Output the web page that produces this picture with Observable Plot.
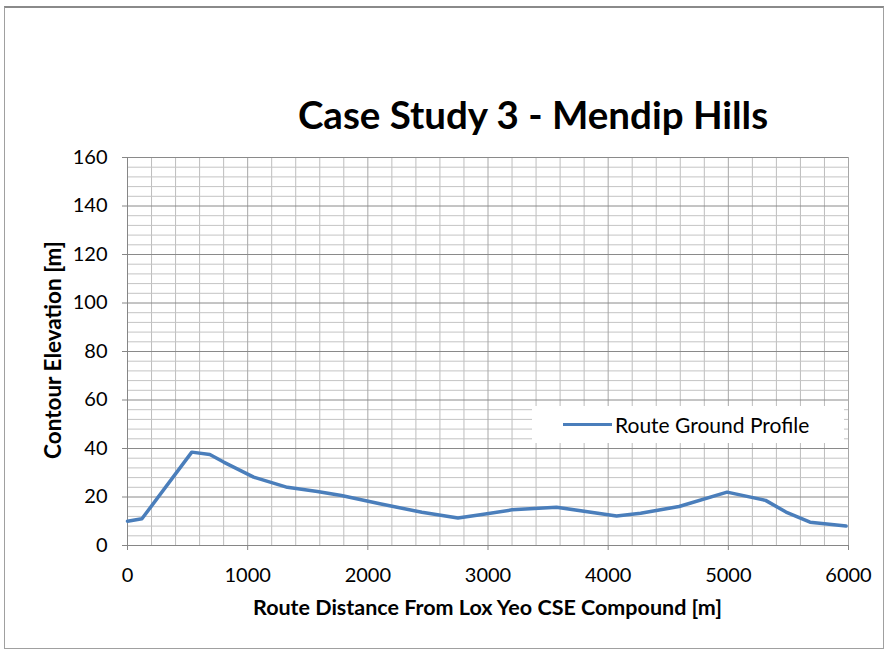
<!DOCTYPE html>
<html>
<head>
<meta charset="utf-8">
<script src="https://cdn.jsdelivr.net/npm/d3@7"></script>
<script src="https://cdn.jsdelivr.net/npm/@observablehq/plot@0.6"></script>
<style>
  html, body { margin: 0; padding: 0; background: #fff; }
  #wrap { position: relative; width: 887px; height: 655px; overflow: hidden; font-family: Lato, "DejaVu Sans", sans-serif; }
  #frame { position: absolute; left: 4px; top: 6px; width: 880px; height: 643px; border: 1px solid #a0a0a0; border-top: 2px solid #8a8a8a; box-sizing: border-box; }
  #title { position: absolute; left: 0; width: 1066px; top: 91px; text-align: center; font-weight: bold; font-size: 38.5px; color: #000; white-space: nowrap; }
  #xtitle { position: absolute; left: 127px; width: 721px; top: 594px; text-align: center; font-weight: bold; font-size: 21.5px; color: #000; white-space: nowrap; }
  #ytitle { position: absolute; left: 52px; top: 350px; transform: translate(-50%, -50%) rotate(-90deg); font-weight: bold; font-size: 22.5px; color: #000; white-space: nowrap; }
  #legend { position: absolute; left: 532px; top: 406px; width: 312px; height: 37px; background: #fff; display: flex; align-items: center; font-size: 21px; color: #000; }
  #legend .sw { width: 49px; height: 3.5px; background: #4a7ebb; margin-left: 31px; margin-right: 3px; }
  svg { position: absolute; left: 0; top: 0; }
</style>
</head>
<body>
<div id="wrap">
  <div id="frame"></div>
  <div id="title"></div>
  <div id="ytitle"></div>
  <div id="xtitle"></div>
  <div id="legend"><div class="sw"></div><span id="legtext"></span></div>
</div>
<script>
const chartTitle = "Case Study 3 - Mendip Hills";
const xLabel = "Route Distance From Lox Yeo CSE Compound [m]";
const yLabel = "Contour Elevation [m]";
const seriesName = "Route Ground Profile";

const distance  = [0, 120, 535, 685, 800, 1050, 1330, 1580, 1780, 2100, 2450, 2750, 2950, 3200, 3570, 4070, 4270, 4590, 4990, 5310, 5480, 5680, 5980];
const elevation = [10, 11, 38.5, 37.5, 34.4, 28.2, 24, 22.3, 20.6, 17.2, 13.7, 11.3, 12.8, 14.7, 15.8, 12.2, 13.3, 16.1, 22, 18.6, 13.8, 9.6, 8.0];

const xTicks = [0, 1000, 2000, 3000, 4000, 5000, 6000];
const yTicks = [0, 20, 40, 60, 80, 100, 120, 140, 160];
const xMinor = d3.range(0, 6001, 200);
const yMinor = d3.range(0, 161, 4);

const data = distance.map((d, i) => ({distance: d, elevation: elevation[i]}));

document.getElementById("title").textContent = chartTitle;
document.getElementById("xtitle").textContent = xLabel;
document.getElementById("ytitle").textContent = yLabel;
document.getElementById("legtext").textContent = seriesName;

const chart = Plot.plot({
  width: 887,
  height: 655,
  marginLeft: 127,
  marginRight: 39,
  marginTop: 157,
  marginBottom: 110,
  style: {fontFamily: "Lato, sans-serif", fontSize: "20px", color: "#000", background: "transparent", overflow: "visible"},
  x: {domain: [0, 6000]},
  y: {domain: [0, 160]},
  marks: [
    Plot.gridX(xMinor.filter(v => v % 1000 !== 0), {stroke: "#bdbdbd", strokeOpacity: 1}),
    Plot.gridY(yMinor.filter(v => v % 20 !== 0), {stroke: "#c4c4c4", strokeOpacity: 1}),
    Plot.gridX(xTicks, {stroke: "#a8a8a8", strokeOpacity: 1}),
    Plot.gridY(yTicks, {stroke: "#8a8a8a", strokeOpacity: 1}),
    Plot.axisX({ticks: xTicks, tickSize: 5, tickPadding: 17, label: null, stroke: "#868686", tickFormat: d => String(d)}),
    Plot.axisY({ticks: yTicks, tickSize: 5, tickPadding: 15, label: null, stroke: "#868686", tickFormat: d => String(d)}),
    Plot.ruleX([0], {stroke: "#868686"}),
    Plot.ruleY([0], {stroke: "#868686"}),
    Plot.line(data, {x: "distance", y: "elevation", stroke: "#4a7ebb", strokeWidth: 3.5, strokeLinejoin: "round", curve: "linear"})
  ]
});
document.getElementById("wrap").insertBefore(chart, document.getElementById("legend"));
</script>
</body>
</html>
